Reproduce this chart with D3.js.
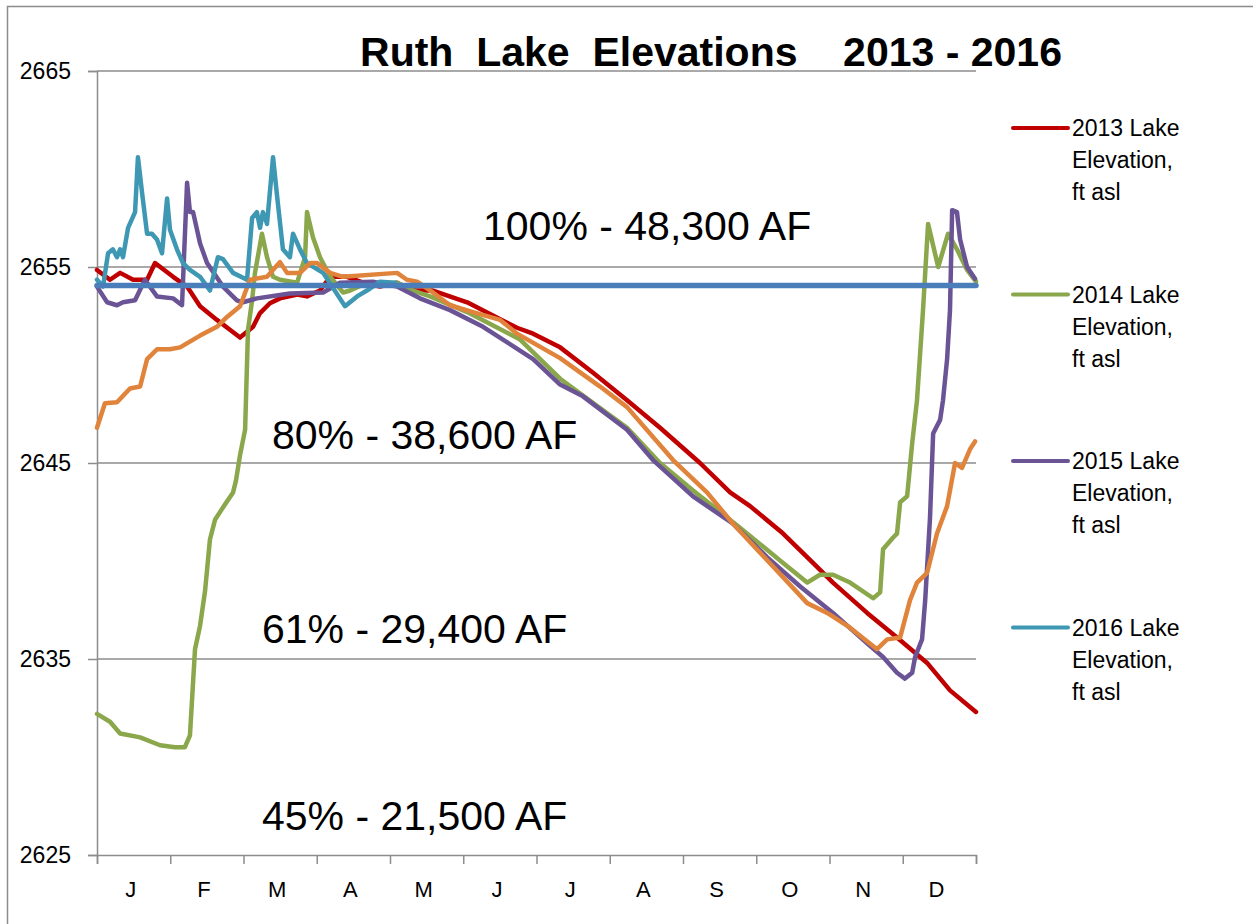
<!DOCTYPE html>
<html>
<head>
<meta charset="utf-8">
<script src="https://cdn.jsdelivr.net/npm/d3@7"></script>
<style>
  body { margin: 0; background: #fff; }
  text { font-family: 'Liberation Sans', Arial, sans-serif; fill: #000; }
</style>
</head>
<body>
<div id="chart-area"></div>
<script>
// Ruth Lake elevations, ft asl as [day of year, elevation]
const months = ['J', 'F', 'M', 'A', 'M ', 'J ', 'J  ', 'A ', 'S', 'O', 'N', 'D']
const yTicks = [2625, 2635, 2645, 2655, 2665]

const elev2013 = [
  [0, 2654.85], [5.4, 2654.35], [9.6, 2654.7], [15, 2654.35], [20.8, 2654.35], [24.1, 2655.2],
  [31.6, 2654.5], [37.4, 2654.0], [42.8, 2653.0], [49.8, 2652.3], [55.2, 2651.8], [59.4, 2651.4],
  [64.8, 2651.95], [67.7, 2652.65], [71.8, 2653.15], [76, 2653.4], [83.1, 2653.6], [87.2, 2653.5],
  [92.6, 2653.8], [96.8, 2654.5], [103.8, 2654.5], [110.5, 2654.2], [117.5, 2654.0], [124.6, 2654.2],
  [131.2, 2653.8], [139.5, 2653.8], [153.7, 2653.2], [174.4, 2651.9], [181.1, 2651.6], [192.3, 2650.9],
  [206, 2649.6], [220.1, 2648.2], [233.8, 2646.8], [250.4, 2645.0], [262.9, 2643.5], [271.2, 2642.8],
  [284.9, 2641.4], [299, 2639.7], [305.6, 2638.9], [319.8, 2637.35], [332.2, 2636.1], [344.7, 2634.8],
  [354.2, 2633.4], [365, 2632.3]
]

const elev2014 = [
  [0, 2632.2], [5.4, 2631.8], [9.6, 2631.2], [17.9, 2631.0], [26.2, 2630.6], [32.4, 2630.5],
  [36.5, 2630.5], [38.6, 2631.1], [40.7, 2635.5], [42.8, 2636.7], [44.9, 2638.5], [46.9, 2641.1],
  [49, 2642.1], [53.2, 2642.9], [56.5, 2643.5], [57.7, 2644.1], [59.4, 2645.4], [61.5, 2646.7],
  [62.7, 2651.8], [64.4, 2653.3], [65.6, 2654.7], [68.5, 2656.7], [70.6, 2655.5], [73.1, 2654.5],
  [76, 2654.35], [83.1, 2654.2], [86.4, 2655.5], [87.2, 2657.8], [89.7, 2656.5], [92.6, 2655.5],
  [96.8, 2654.5], [102.2, 2653.7], [105.1, 2653.8], [110.5, 2654.1], [124.6, 2654.2], [131.2, 2653.8],
  [138.3, 2653.5], [153.7, 2652.7], [175.7, 2651.3], [192.3, 2649.3], [220.1, 2646.8], [233.8, 2645.0],
  [247.5, 2643.6], [267, 2641.7], [284.9, 2639.9], [294.9, 2638.9], [300.2, 2639.3], [305.6, 2639.3],
  [312.7, 2638.9], [322.3, 2638.1], [325.2, 2638.4], [326.4, 2640.6], [330.6, 2641.2], [332.2, 2641.4],
  [333.5, 2643.0], [336.4, 2643.3], [338.5, 2646.0], [340.5, 2648.2], [343, 2652.8], [345.1, 2657.2],
  [349.3, 2655.0], [353.4, 2656.7], [357.1, 2655.9], [361.3, 2654.85], [365, 2654.25]
]

const elev2015 = [
  [0, 2654.0], [4.2, 2653.2], [8.3, 2653.05], [10.8, 2653.2], [15.8, 2653.3], [19.9, 2654.35],
  [24.9, 2653.5], [31.6, 2653.4], [35.3, 2653.05], [37.4, 2659.3], [38.6, 2657.8], [39.9, 2657.8],
  [42.8, 2656.2], [45.7, 2655.2], [52.3, 2654.0], [58.1, 2653.3], [60.6, 2653.2], [66.4, 2653.4],
  [80.1, 2653.65], [93.9, 2653.7], [100.9, 2654.2], [114.6, 2654.25], [124.6, 2654.0], [134.1, 2653.4],
  [146.6, 2652.8], [160.3, 2651.95], [181.1, 2650.3], [192.3, 2649.0], [201.8, 2648.4], [220.1, 2646.7],
  [230.9, 2645.15], [247.5, 2643.3], [264.1, 2641.9], [278.2, 2640.2], [292, 2638.7], [305.6, 2637.35],
  [319.8, 2635.8], [326.4, 2635.1], [332.2, 2634.3], [335.5, 2634.0], [338.5, 2634.3], [339.7, 2635.1],
  [342.6, 2636.0], [343.9, 2638.0], [345.9, 2642.2], [347.2, 2646.5], [350.1, 2647.2], [351.3, 2648.2],
  [353, 2650.3], [354.2, 2652.8], [355.1, 2657.9], [357.1, 2657.8], [358.4, 2656.4], [361.3, 2655.0],
  [364.6, 2654.4]
]

const elev2016 = [
  [0, 2654.35], [2.5, 2654.0], [4.6, 2655.7], [6.6, 2655.9], [8.3, 2655.5], [9.6, 2655.9],
  [10.8, 2655.5], [12.9, 2657.0], [15.8, 2657.8], [17, 2660.6], [18.7, 2658.8], [20.8, 2656.7],
  [22.8, 2656.7], [24.9, 2656.4], [27, 2655.7], [29.1, 2658.5], [30.3, 2656.9], [33.2, 2655.9],
  [35.7, 2655.2], [38.6, 2654.85], [42.8, 2654.5], [46.9, 2653.8], [50.2, 2655.5], [52.3, 2655.4],
  [56.5, 2654.7], [62.3, 2654.35], [64.4, 2657.5], [66.4, 2657.8], [67.7, 2657.0], [68.9, 2657.8],
  [70.6, 2657.2], [73.1, 2660.6], [74.8, 2658.6], [77.2, 2655.9], [80.1, 2655.5], [81.4, 2656.7],
  [84.3, 2655.9], [87.2, 2655.2], [93.9, 2654.7], [103, 2653.0], [108, 2653.5], [112.1, 2653.8],
  [117.5, 2654.25], [123.8, 2654.2]
]

// unlabelled orange series (no legend entry on the original)
const elevOrange = [
  [0, 2646.8], [3.3, 2648.05], [8.3, 2648.1], [13.7, 2648.8], [17.9, 2648.9], [20.8, 2650.3],
  [24.9, 2650.8], [30.3, 2650.8], [34.5, 2650.9], [42.8, 2651.5], [49.8, 2651.95], [54, 2652.45],
  [59.4, 2653.0], [63.5, 2654.35], [70.6, 2654.5], [76, 2655.25], [78.9, 2654.7], [84.3, 2654.7],
  [88.5, 2655.2], [91.4, 2655.2], [96.8, 2654.7], [102.2, 2654.5], [124.6, 2654.7], [128.7, 2654.35],
  [132.9, 2654.25], [139.5, 2653.7], [146.6, 2653.05], [156.1, 2652.7], [167.4, 2652.3], [174.4, 2651.6],
  [192.3, 2650.35], [208.9, 2648.9], [220.1, 2647.85], [239.2, 2645.15], [253.3, 2643.5], [264.1, 2641.9],
  [278.2, 2640.05], [294.9, 2637.85], [303.2, 2637.35], [312.7, 2636.6], [323.9, 2635.5], [328.1, 2636.0],
  [333.5, 2636.1], [337.6, 2638.0], [340.5, 2638.9], [344.7, 2639.4], [348.8, 2641.4], [353, 2642.8],
  [356.3, 2645.0], [359.2, 2644.75], [362.5, 2645.7], [364.6, 2646.1]
]

const fullPoolElev = 2654.05

const capacityLabels = ['100% - 48,300 AF', '80% - 38,600 AF', '61% - 29,400 AF', '45% - 21,500 AF']
const capacityLabelElev = [2656.4, 2645.7, 2635.8, 2626.3]
const capacityLabelX = [483, 272, 262, 262]

const legendNames = ['2013', '2014', '2015', '2016']

const width = 1253
const height = 924
const plot = { left: 97, right: 976, top: 71, bottom: 855 }

const svg = d3.select('#chart-area')
  .append('svg')
    .attr('width', width)
    .attr('height', height)

// chart frame
svg.append('rect')
  .attr('x', 7.5)
  .attr('y', 6.5)
  .attr('width', width + 20)
  .attr('height', height + 20)
  .attr('fill', 'none')
  .attr('stroke', '#8c8c8c')
  .attr('stroke-width', 1.5)

const x = d3.scaleLinear().domain([0, 365]).range([plot.left, plot.right])
const xMonth = d3.scaleBand().domain(months).range([plot.left, plot.right])
const y = d3.scaleLinear().domain([2625, 2665]).range([plot.bottom, plot.top])

// gridlines
svg.append('g')
  .selectAll('line')
  .data(yTicks.slice(1))
  .enter()
  .append('line')
    .attr('x1', plot.left)
    .attr('x2', plot.right)
    .attr('y1', d => y(d))
    .attr('y2', d => y(d))
    .attr('stroke', '#8c8c8c')
    .attr('stroke-width', 1.5)

// y axis
const yAxis = svg.append('g')
  .attr('transform', `translate(${plot.left}, 0)`)
  .call(d3.axisLeft(y).tickValues(yTicks).tickSize(9).tickPadding(17).tickFormat(d3.format('d')))
yAxis.select('.domain').attr('stroke', '#8c8c8c').attr('stroke-width', 1.5)
yAxis.selectAll('.tick line').attr('stroke', '#8c8c8c').attr('stroke-width', 1.5)
yAxis.selectAll('.tick text')
  .attr('font-size', 23)
  .attr('font-family', "'Liberation Sans', Arial, sans-serif")

// x axis: month boundaries + labels
const xTickAxis = svg.append('g')
  .attr('transform', `translate(0, ${plot.bottom})`)
  .call(d3.axisBottom(x).tickValues(d3.range(13).map(i => i * 365 / 12)).tickSize(9).tickFormat(''))
xTickAxis.select('.domain').attr('stroke', '#8c8c8c').attr('stroke-width', 1.5)
xTickAxis.selectAll('.tick line').attr('stroke', '#8c8c8c').attr('stroke-width', 1.5)

const xLabelAxis = svg.append('g')
  .attr('transform', `translate(-3, ${plot.bottom})`)
  .call(d3.axisBottom(xMonth).tickSize(0).tickPadding(26).tickFormat(d => d.trim()))
xLabelAxis.select('.domain').remove()
xLabelAxis.selectAll('.tick text')
  .attr('font-size', 22)
  .attr('font-family', "'Liberation Sans', Arial, sans-serif")

// capacity annotations
svg.append('g')
  .selectAll('text')
  .data(capacityLabels)
  .enter()
  .append('text')
    .attr('x', (d, i) => capacityLabelX[i])
    .attr('y', (d, i) => y(capacityLabelElev[i]))
    .attr('font-size', 41)
    .text(d => d)

// title
svg.append('text')
  .attr('x', 711)
  .attr('y', 66)
  .attr('text-anchor', 'middle')
  .attr('font-size', 41)
  .attr('font-weight', 'bold')
  .style('white-space', 'pre')
  .text('Ruth  Lake  Elevations    2013 - 2016')

// lines
const line = d3.line()
  .x(d => x(d[0]))
  .y(d => y(d[1]))

const series = [
  { data: elev2013, color: '#c00000' },
  { data: elev2014, color: '#8aa74b' },
  { data: elev2015, color: '#6b5495' },
  { data: elev2016, color: '#3e98b4' },
  { data: elevOrange, color: '#e0843c' }
]

svg.append('g')
  .selectAll('path')
  .data(series)
  .enter()
  .append('path')
    .attr('d', d => line(d.data))
    .attr('fill', 'none')
    .attr('stroke', d => d.color)
    .attr('stroke-width', 4.5)
    .attr('stroke-linejoin', 'round')
    .attr('stroke-linecap', 'round')

svg.append('path')
  .attr('d', line([[0, fullPoolElev], [365, fullPoolElev]]))
  .attr('fill', 'none')
  .attr('stroke', '#4a7ebb')
  .attr('stroke-width', 5.5)
  .attr('stroke-linecap', 'round')

// legend
const legend = svg.append('g')
  .selectAll('g')
  .data(legendNames)
  .enter()
  .append('g')
    .attr('transform', (d, i) => `translate(1013, ${128 + i * 166.5})`)

legend.append('line')
  .attr('x1', 0)
  .attr('x2', 55)
  .attr('stroke', (d, i) => series[i].color)
  .attr('stroke-width', 4)
  .attr('stroke-linecap', 'round')

legend.each(function (d) {
  const t = d3.select(this).append('text')
    .attr('x', 59)
    .attr('y', 8)
    .attr('font-size', 23)
  const rows = [`${d} Lake`, 'Elevation,', 'ft asl']
  rows.forEach((r, k) => {
    t.append('tspan')
      .attr('x', 59)
      .attr('dy', k === 0 ? 0 : 32)
      .text(r)
  })
})
</script>
</body>
</html>
